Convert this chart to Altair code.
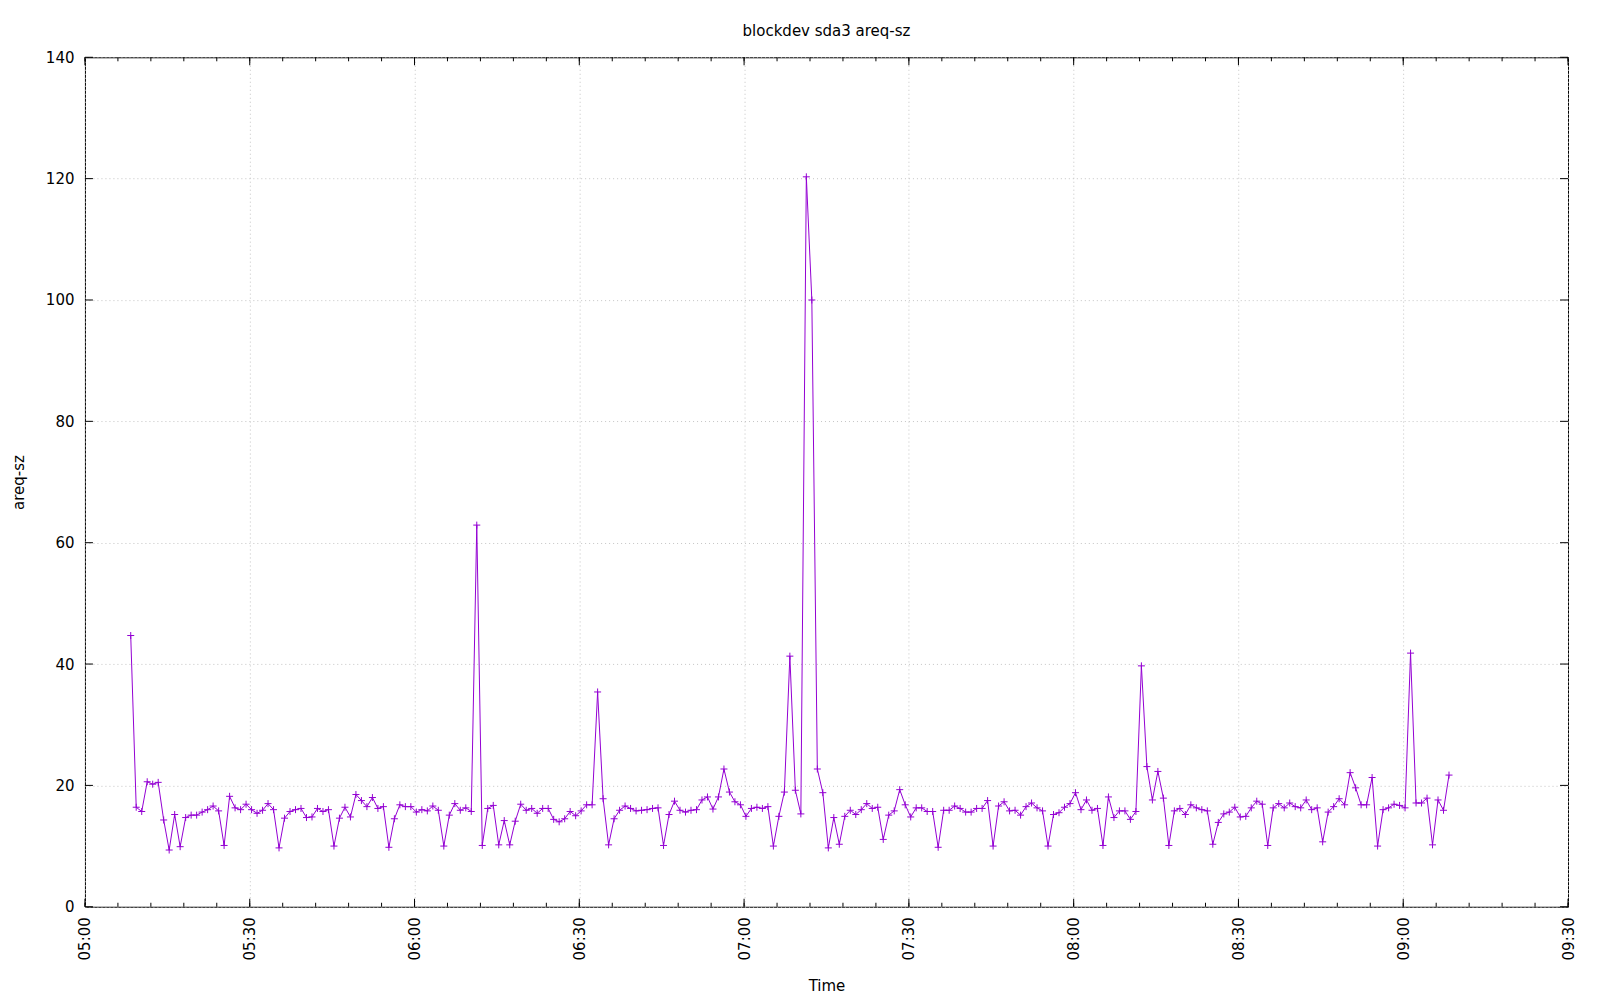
import altair as alt
import pandas as pd

TITLE = "blockdev sda3 areq-sz"
DAY = "2024-01-01"
START = DAY + "T05:08:20"

VALUES = [
    44.7, 16.4, 15.7, 20.6, 20.2, 20.5, 14.3, 9.35, 15.2, 9.9,
    14.7, 15.1, 15.1, 15.6, 16.0, 16.6, 15.8, 10.1, 18.2, 16.3,
    16.0, 16.9, 16.0, 15.4, 15.9,
    17.0, 16.0, 9.7, 14.6, 15.7, 16.0, 16.2, 14.7, 14.8, 16.2,
    15.7, 16.0, 10.0, 14.6, 16.4, 14.8, 18.5, 17.5, 16.5, 18.0,
    16.2, 16.5, 9.8, 14.5, 16.8,
    16.5, 16.5, 15.6, 16.0, 15.8, 16.6, 15.9, 10.0, 15.1, 17.0,
    15.9, 16.3, 15.7, 62.9, 10.1, 16.2, 16.7, 10.2, 14.2, 10.2,
    14.1, 16.9, 15.9, 16.2,
    15.4, 16.2, 16.2, 14.4, 14.0, 14.5, 15.7, 15.0, 15.8, 16.8,
    16.8, 35.4, 17.8, 10.2, 14.5, 15.9, 16.6, 16.2, 15.8, 15.9,
    16.0, 16.2, 16.3, 10.1, 15.2,
    17.4, 15.9, 15.6, 15.9, 16.0, 17.6, 18.1, 16.1, 18.1, 22.7,
    18.9, 17.3, 16.8, 14.9, 16.2, 16.4, 16.2, 16.5, 10.0, 14.9,
    18.9, 41.3, 19.2, 15.3,
    120.3, 100.0, 22.7, 18.8, 9.7, 14.7, 10.3, 14.9, 15.9, 15.2,
    16.0, 17.0, 16.2, 16.4, 11.1, 15.1, 15.8, 19.3, 16.8, 14.8,
    16.3, 16.3, 15.7, 15.7, 9.8,
    15.9, 15.9, 16.6, 16.2, 15.6, 15.6, 16.2, 16.2, 17.5, 10.0,
    16.6, 17.3, 15.8, 15.9, 15.1, 16.5, 17.1, 16.3, 15.8, 10.0,
    15.2, 15.5, 16.4, 17.0, 18.8,
    16.0, 17.6, 15.9, 16.2, 10.1, 18.1, 14.7, 15.8, 15.8, 14.4,
    15.7, 39.7, 23.1, 17.6, 22.3, 17.9, 10.1, 15.8, 16.2, 15.2,
    16.8, 16.3, 16.0, 15.8,
    10.3, 13.9, 15.3, 15.6, 16.4, 14.8, 14.9, 16.3, 17.4, 16.9,
    10.1, 16.3, 17.0, 16.3, 17.1, 16.5, 16.3, 17.6, 16.0, 16.3,
    10.7, 15.6, 16.5, 17.8, 16.8,
    22.1, 19.6, 16.8, 16.8, 21.3, 10.0, 16.0, 16.3, 16.9, 16.7,
    16.3, 41.8, 17.1, 17.1, 17.9, 10.2, 17.6, 15.9, 21.7,
]

MAJOR_X = ["05:00", "05:30", "06:00", "06:30", "07:00", "07:30",
           "08:00", "08:30", "09:00", "09:30"]
MINOR_STEP_MIN = 6
Y_TICKS = [0, 20, 40, 60, 80, 100, 120, 140]

W, H = 1484, 850
COLOR = "#9400d3"
FONT = "DejaVu Sans"

times = pd.date_range(START, periods=len(VALUES), freq="60s")
df = pd.DataFrame({"time": times.strftime("%Y-%m-%dT%H:%M:%S"), "value": VALUES})


def dt(hm):
    h, m = hm.split(":")
    return alt.DateTime(year=2024, month=1, date=1, hours=int(h), minutes=int(m))


x_domain = [dt(MAJOR_X[0]), dt(MAJOR_X[-1])]
x_scale = alt.Scale(domain=x_domain)
y_scale = alt.Scale(domain=[Y_TICKS[0], Y_TICKS[-1]], nice=False)

major_df = pd.DataFrame({"t": [f"{DAY}T{hm}:00" for hm in MAJOR_X]})
minor_times = pd.date_range(f"{DAY}T{MAJOR_X[0]}:00", f"{DAY}T{MAJOR_X[-1]}:00",
                            freq=f"{MINOR_STEP_MIN}min")
minor_df = pd.DataFrame({"t": minor_times.strftime("%Y-%m-%dT%H:%M:%S")})
ytick_df = pd.DataFrame({"v": Y_TICKS})

x_axis = alt.Axis(
    values=[dt(hm) for hm in MAJOR_X], format="%H:%M", labelAngle=270,
    grid=True, gridDash=[1, 3], gridColor="#c4c4c4", domain=False, ticks=False,
    labelPadding=10, labelFontSize=15, labelColor="black", labelFont=FONT,
    title="Time", titleFontSize=15, titleFontWeight="normal", titleColor="black",
    titleFont=FONT, titleX=W / 2, titleY=79, titleBaseline="middle", titleAlign="center",
)
y_axis = alt.Axis(
    values=Y_TICKS, grid=True, gridDash=[1, 3], gridColor="#c4c4c4", domain=False,
    ticks=False, labelPadding=11, labelFontSize=15, labelColor="black", labelFont=FONT,
    title="areq-sz", titleFontSize=15, titleFontWeight="normal", titleColor="black",
    titleFont=FONT, titleX=-66, titleY=H / 2, titleAngle=270, titleBaseline="middle",
    titleAlign="center",
)

base = alt.Chart(df)
line = base.mark_line(color=COLOR, strokeWidth=1).encode(
    x=alt.X("time:T", scale=x_scale, axis=x_axis),
    y=alt.Y("value:Q", scale=y_scale, axis=y_axis),
)
points = base.mark_point(
    shape="M-1,0H1M0,-1V1", size=49, filled=False, strokeWidth=1, color=COLOR, opacity=1
).encode(
    x=alt.X("time:T", scale=x_scale),
    y=alt.Y("value:Q", scale=y_scale),
)


def xticks(data, length, top):
    if top:
        y0, y1 = 0, length
    else:
        y0, y1 = H, H - length
    return alt.Chart(data).mark_rule(color="black", strokeWidth=1).encode(
        x=alt.X("t:T", scale=x_scale),
        y=alt.value(y0), y2=alt.value(y1),
    )


def yticks(length, right):
    if right:
        x0, x1 = W, W - length
    else:
        x0, x1 = 0, length
    return alt.Chart(ytick_df).mark_rule(color="black", strokeWidth=1).encode(
        y=alt.Y("v:Q", scale=y_scale),
        x=alt.value(x0), x2=alt.value(x1),
    )


chart = alt.layer(
    line, points,
    xticks(minor_df, 4, False), xticks(minor_df, 4, True),
    xticks(major_df, 8, False), xticks(major_df, 8, True),
    yticks(8, False), yticks(8, True),
).properties(
    width=W, height=H,
    background="white",
    title=alt.TitleParams(TITLE, fontSize=15, fontWeight="normal", font=FONT,
                          color="black", anchor="middle", offset=11),
    autosize=alt.AutoSizeParams(type="none"),
    padding={"left": 77, "top": 49, "right": 24, "bottom": 100},
).configure(
    font=FONT
).configure_view(
    stroke="black", strokeWidth=1
)

chart.save("out.html", embed_options={"renderer": "svg", "actions": False})
